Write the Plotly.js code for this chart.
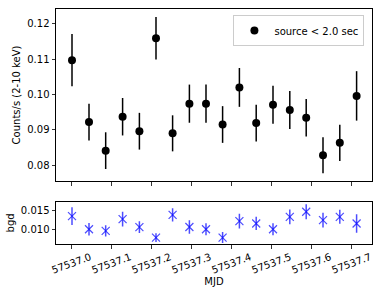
<!DOCTYPE html>
<html><head><meta charset="utf-8">
<script src="https://cdn.plot.ly/plotly-3.0.1.min.js"></script>
<style>html,body{margin:0;padding:0;background:#fff}#chart{width:382px;height:296px}</style>
</head><body><div id="chart"></div>
<script>
const mjd = [57537.0025, 57537.045, 57537.0867, 57537.129, 57537.171, 57537.2125, 57537.254, 57537.296, 57537.3375,
             57537.379, 57537.421, 57537.463, 57537.505, 57537.547, 57537.588, 57537.630, 57537.672, 57537.714];
const srcRate = [0.1097, 0.0922, 0.0841, 0.0937, 0.0896, 0.1159, 0.0890, 0.0974, 0.0974,
                 0.0915, 0.1020, 0.0919, 0.0971, 0.0956, 0.0934, 0.0828, 0.0863, 0.0996];
const srcErr = [0.0074, 0.0052, 0.0052, 0.0053, 0.0052, 0.0060, 0.0051, 0.0054, 0.0054,
                0.0052, 0.0055, 0.0052, 0.0054, 0.0054, 0.0053, 0.0051, 0.0051, 0.0070];
const bgdRate = [0.01355, 0.0100, 0.00955, 0.01274, 0.01056, 0.00774, 0.0139, 0.0106, 0.0100,
                 0.00774, 0.0122, 0.01156, 0.0100, 0.01336, 0.01473, 0.01246, 0.01336, 0.01156];
const bgdErr = [0.0024, 0.0017, 0.0015, 0.0020, 0.0016, 0.0012, 0.0018, 0.0018, 0.0016,
                0.0015, 0.0020, 0.0018, 0.0016, 0.0020, 0.0020, 0.0020, 0.0019, 0.0025];
const xTicks = [57537.0, 57537.1, 57537.2, 57537.3, 57537.4, 57537.5, 57537.6, 57537.7];
const xTickText = ['57537.0','57537.1','57537.2','57537.3','57537.4','57537.5','57537.6','57537.7'];
const legendLabel = 'source < 2.0 sec';

const F = 'DejaVu Sans, sans-serif';
const traces = [
  {x: mjd, y: srcRate, type: 'scatter', mode: 'markers', name: legendLabel,
   xaxis: 'x2', yaxis: 'y2',
   marker: {color: 'black', size: 8, symbol: 'circle'},
   error_y: {type: 'data', array: srcErr, visible: true, color: 'black', thickness: 1.5, width: 0}},
  {x: mjd, y: bgdRate, type: 'scatter', mode: 'markers', showlegend: false,
   xaxis: 'x', yaxis: 'y',
   marker: {color: 'rgba(0,0,255,0.7)', size: 8, symbol: 'x-thin-open', line: {color: 'rgba(0,0,255,0.7)', width: 1.2}},
   error_y: {type: 'data', array: bgdErr, visible: true, color: 'rgba(0,0,255,0.7)', thickness: 1.5, width: 0}}
];
const axCommon = {showline: true, linecolor: 'black', linewidth: 1, mirror: true, ticks: 'outside',
  ticklen: 3.5, tickwidth: 0.8, tickcolor: 'black', showgrid: false, zeroline: false,
  tickfont: {family: F, size: 10, color: 'black'}};
const xRange = [57536.9625, 57537.7525];
const tickAnnotations = xTicks.map((v, i) => ({
  x: v, xref: 'x', y: -0.085, yref: 'paper', text: xTickText[i], showarrow: false,
  textangle: -20, xanchor: 'center', yanchor: 'middle', font: {family: F, size: 10, color: 'black'}
}));
const layout = {
  width: 382, height: 296,
  margin: {l: 56, r: 10, t: 9, b: 52},
  paper_bgcolor: 'white', plot_bgcolor: 'white',
  font: {family: F, size: 10, color: 'black'},
  showlegend: true,
  legend: {x: 0.976, y: 0.974, xanchor: 'right', yanchor: 'top', bgcolor: 'rgba(255,255,255,0.8)',
    bordercolor: '#cccccc', borderwidth: 1, font: {family: F, size: 10, color: 'black'}},
  annotations: tickAnnotations,
  xaxis: Object.assign({}, axCommon, {range: xRange, tickvals: xTicks, showticklabels: false,
    anchor: 'y', title: {text: 'MJD', font: {family: F, size: 10}, standoff: 30}}),
  yaxis: Object.assign({}, axCommon, {domain: [0, 0.18], range: [0.0060, 0.01745], tickvals: [0.010, 0.015],
    ticktext: ['0.010', '0.015'], anchor: 'x', title: {text: 'bgd', font: {family: F, size: 10}, standoff: 4}}),
  xaxis2: Object.assign({}, axCommon, {range: xRange, tickvals: xTicks, showticklabels: false, anchor: 'y2', matches: 'x'}),
  yaxis2: Object.assign({}, axCommon, {domain: [0.268, 1], range: [0.0755, 0.1242],
    tickvals: [0.08, 0.09, 0.10, 0.11, 0.12], ticktext: ['0.08', '0.09', '0.10', '0.11', '0.12'], anchor: 'x2',
    title: {text: 'Counts/s (2-10 keV)', font: {family: F, size: 10}, standoff: 4}})
};
Plotly.newPlot('chart', traces, layout, {staticPlot: true, displayModeBar: false});
</script></body></html>
